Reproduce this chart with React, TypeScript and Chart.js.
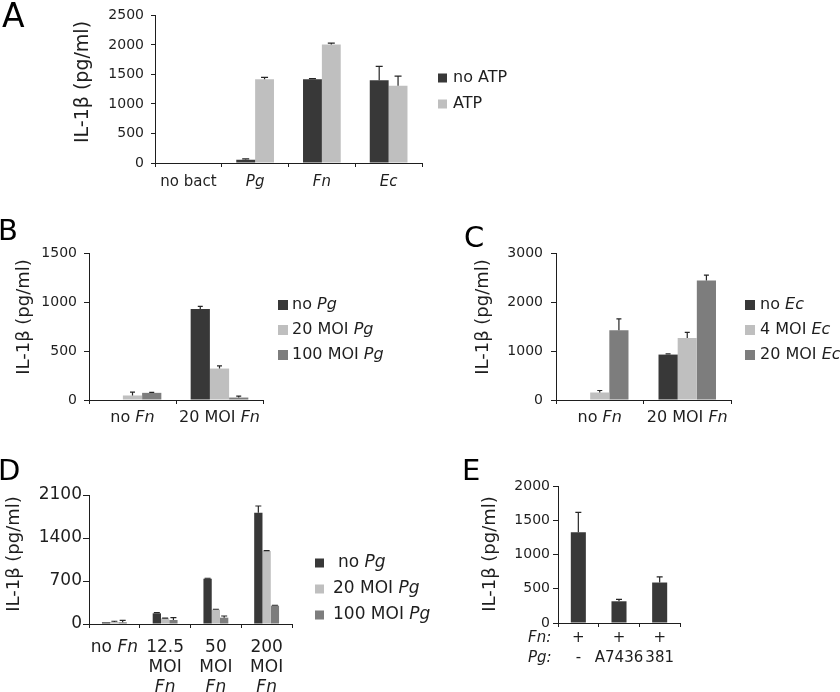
import React, { useEffect, useRef } from 'react';
import { Chart, registerables } from 'chart.js';

Chart.register(...registerables);

const FONT = "'DejaVu Sans', sans-serif";
const INK = '#1e1e1e';
const DARK = '#383838';
const LIGHT = '#bfbfbf';
const MID = '#7d7d7d';

// ---------- Panel A ----------
const A_CATEGORIES = ['no bact', '*Pg*', '*Fn*', '*Ec*'];
const A_SERIES = ['no ATP', 'ATP'];
const A_NO_ATP = [0, 55, 1418, 1402];
const A_NO_ATP_ERR = [0, 15, 12, 233];
const A_ATP = [0, 1418, 2005, 1309];
const A_ATP_ERR = [0, 32, 25, 163];
const A_TICKS = [0, 500, 1000, 1500, 2000, 2500];

// ---------- Panel B ----------
const B_CATEGORIES = ['no *Fn*', '20 MOI *Fn*'];
const B_SERIES = ['no *Pg*', '20 MOI *Pg*', '100 MOI *Pg*'];
const B_NO_PG = [0, 929];
const B_NO_PG_ERR = [0, 27];
const B_PG20 = [46, 321];
const B_PG20_ERR = [34, 27];
const B_PG100 = [73, 25];
const B_PG100_ERR = [5, 14];
const B_TICKS = [0, 500, 1000, 1500];

// ---------- Panel C ----------
const C_CATEGORIES = ['no *Fn*', '20 MOI *Fn*'];
const C_SERIES = ['no *Ec*', '4 MOI *Ec*', '20 MOI *Ec*'];
const C_NO_EC = [0, 927];
const C_NO_EC_ERR = [0, 14];
const C_EC4 = [153, 1267];
const C_EC4_ERR = [41, 114];
const C_EC20 = [1422, 2440];
const C_EC20_ERR = [232, 110];
const C_TICKS = [0, 1000, 2000, 3000];

// ---------- Panel D ----------
const D_CATEGORIES = [['no *Fn*'], ['12.5', 'MOI', '*Fn*'], ['50', 'MOI', '*Fn*'], ['200', 'MOI', '*Fn*']];
const D_SERIES = ['no *Pg*', '20 MOI *Pg*', '100 MOI *Pg*'];
const D_NO_PG = [28, 174, 737, 1812];
const D_NO_PG_ERR = [0, 11, 8, 109];
const D_PG20 = [33, 93, 233, 1188];
const D_PG20_ERR = [12, 3, 7, 7];
const D_PG100 = [28, 65, 103, 298];
const D_PG100_ERR = [32, 38, 27, 7];
const D_TICKS = [0, 700, 1400, 2100];

// ---------- Panel E ----------
const E_FN_ROW = ['+', '+', '+'];
const E_PG_ROW = ['-', 'A7436', '381'];
const E_ROW_HEADERS = ['*Fn:*', '*Pg:*'];
const E_VALUES = [1323, 317, 591];
const E_ERR = [292, 28, 82];
const E_TICKS = [0, 500, 1000, 1500, 2000];

const Y_TITLE = 'IL-1\u03b2 (pg/ml)';

function drawRich(ctx: CanvasRenderingContext2D, text: string, x: number, y: number, size: number, align: string, baseline: CanvasTextBaseline = 'alphabetic') {
  const segs = text.split('*').map((t, i) => ({ t, it: i % 2 === 1 })).filter(s => s.t.length > 0);
  const fontOf = (it: boolean) => `${it ? 'italic ' : ''}${size}px ${FONT}`;
  let w = 0;
  segs.forEach(s => { ctx.font = fontOf(s.it); w += ctx.measureText(s.t).width; });
  let cx = align === 'center' ? x - w / 2 : align === 'right' ? x - w : x;
  ctx.textAlign = 'left';
  ctx.textBaseline = baseline;
  segs.forEach(s => { ctx.font = fontOf(s.it); ctx.fillText(s.t, cx, y); cx += ctx.measureText(s.t).width; });
}

const errorBarsPlugin = {
  id: 'errorBars',
  afterDatasetsDraw(chart: any, _a: any, opts: any) {
    const ctx = chart.ctx;
    const ys = chart.scales.y;
    ctx.save();
    ctx.strokeStyle = '#262626';
    ctx.lineWidth = 1.2;
    chart.data.datasets.forEach((ds: any, di: number) => {
      const errs = ds.errors;
      if (!errs) return;
      const meta = chart.getDatasetMeta(di);
      meta.data.forEach((bar: any, i: number) => {
        const e = errs[i];
        if (!e) return;
        const v = ds.data[i];
        const y0 = ys.getPixelForValue(v);
        const y1 = ys.getPixelForValue(v + e);
        const cap = opts.cap || 6;
        ctx.beginPath();
        ctx.moveTo(bar.x, y0);
        ctx.lineTo(bar.x, y1);
        ctx.moveTo(bar.x - cap / 2, y1);
        ctx.lineTo(bar.x + cap / 2, y1);
        ctx.stroke();
      });
    });
    ctx.restore();
  },
};

const decoPlugin = {
  id: 'deco',
  afterDraw(chart: any, _a: any, o: any) {
    const ctx = chart.ctx;
    const xs = chart.scales.x;
    const area = chart.chartArea;
    ctx.save();
    ctx.fillStyle = INK;
    chart.data.labels.forEach((lab: any, i: number) => {
      const lines = Array.isArray(lab) ? lab : [lab];
      const x = xs.getPixelForValue(i);
      lines.forEach((ln: string, j: number) => drawRich(ctx, ln, x, area.bottom + o.xFirst + j * o.xLineH, o.xSize, 'center'));
    });
    (o.rowHeaders || []).forEach((h: string, j: number) =>
      drawRich(ctx, h, o.rowHeaderX, area.bottom + o.xFirst + j * o.xLineH, o.xSize, 'left'));
    ctx.save();
    ctx.translate(o.yTitleX, o.yTitleY);
    ctx.rotate(-Math.PI / 2);
    ctx.textAlign = 'center';
    ctx.textBaseline = 'middle';
    ctx.font = `${o.yTitleSize}px ${FONT}`;
    ctx.fillText(Y_TITLE, 0, 0);
    ctx.restore();
    if (o.legend) {
      const L = o.legend;
      chart.data.datasets.forEach((ds: any, i: number) => {
        const cy = L.y0 + i * L.gap;
        ctx.fillStyle = ds.backgroundColor;
        ctx.fillRect(L.boxX, cy - L.box / 2, L.box, L.box);
        ctx.fillStyle = INK;
        drawRich(ctx, ds.label, L.textX + (L.shift && L.shift[i] ? L.shift[i] : 0), cy, L.size, 'left', 'middle');
      });
    }
    ctx.fillStyle = '#000';
    ctx.font = `${o.letterSize}px ${FONT}`;
    ctx.textAlign = 'left';
    ctx.textBaseline = 'alphabetic';
    ctx.fillText(o.letter, o.letterX, o.letterY);
    ctx.restore();
  },
};

type PanelDef = {
  labels: any[];
  datasets: { label: string; data: number[]; errors: number[]; color: string }[];
  yTicks: number[];
  box: { left: number; top: number; right: number; bottom: number };
  catPct: number;
  tickSize: number;
  yTickPad: number;
  yTickLen: number;
  xTickLen: number;
  cap: number;
  deco: any;
};

function PanelChart({ def }: { def: PanelDef }) {
  const ref = useRef<HTMLCanvasElement>(null);
  useEffect(() => {
    if (!ref.current) return;
    const YW = 72;
    const XH = 10;
    const b = def.box;
    const chart = new Chart(ref.current, {
      type: 'bar',
      data: {
        labels: def.labels,
        datasets: def.datasets.map(d => ({
          label: d.label,
          data: d.data,
          errors: d.errors,
          backgroundColor: d.color,
          borderWidth: 0,
          barPercentage: 1,
          categoryPercentage: def.catPct,
        })) as any,
      },
      options: {
        animation: false,
        responsive: false,
        devicePixelRatio: 1,
        layout: { padding: { left: b.left - YW, top: b.top, right: 840 - b.right, bottom: 692 - b.bottom - XH } },
        plugins: {
          legend: { display: false },
          tooltip: { enabled: false },
          errorBars: { cap: def.cap },
          deco: def.deco,
        } as any,
        scales: {
          x: {
            type: 'category',
            offset: true,
            grid: { display: true, drawOnChartArea: false, drawTicks: true, tickLength: def.xTickLen, color: INK, offset: true, lineWidth: 1 },
            border: { display: true, color: INK, width: 1 },
            ticks: { display: false },
            afterFit: (s: any) => { s.height = XH; },
          },
          y: {
            min: def.yTicks[0],
            max: def.yTicks[def.yTicks.length - 1],
            grid: { display: true, drawOnChartArea: false, drawTicks: true, tickLength: def.yTickLen, color: INK, lineWidth: 1 },
            border: { display: true, color: INK, width: 1 },
            ticks: {
              font: { family: FONT, size: def.tickSize },
              color: INK,
              padding: def.yTickPad,
              callback: (v: any) => String(v),
            },
            afterBuildTicks: (s: any) => { s.ticks = def.yTicks.map(v => ({ value: v })); },
            afterFit: (s: any) => { s.width = YW; },
          },
        } as any,
      },
      plugins: [errorBarsPlugin, decoPlugin],
    });
    return () => chart.destroy();
  }, [def]);
  return <canvas ref={ref} width={840} height={692} style={{ position: 'absolute', left: 0, top: 0, width: 840, height: 692 }} />;
}

const PANELS: PanelDef[] = [
  {
    labels: A_CATEGORIES,
    datasets: [
      { label: A_SERIES[0], data: A_NO_ATP, errors: A_NO_ATP_ERR, color: DARK },
      { label: A_SERIES[1], data: A_ATP, errors: A_ATP_ERR, color: LIGHT },
    ],
    yTicks: A_TICKS,
    box: { left: 155, top: 10, right: 422, bottom: 163 },
    catPct: 0.565,
    tickSize: 14,
    yTickPad: 7,
    yTickLen: 4,
    xTickLen: 4,
    cap: 7,
    deco: {
      xFirst: 23, xLineH: 20, xSize: 15,
      yTitleX: 83, yTitleY: 82, yTitleSize: 19,
      legend: { boxX: 438, textX: 453, y0: 78, gap: 26, box: 9, size: 16 },
      letter: 'A', letterX: 2, letterY: 27, letterSize: 33,
    },
  },
  {
    labels: B_CATEGORIES,
    datasets: [
      { label: B_SERIES[0], data: B_NO_PG, errors: B_NO_PG_ERR, color: DARK },
      { label: B_SERIES[1], data: B_PG20, errors: B_PG20_ERR, color: LIGHT },
      { label: B_SERIES[2], data: B_PG100, errors: B_PG100_ERR, color: MID },
    ],
    yTicks: B_TICKS,
    box: { left: 89, top: 253, right: 263, bottom: 400 },
    catPct: 0.663,
    tickSize: 14,
    yTickPad: 7,
    yTickLen: 5,
    xTickLen: 4,
    cap: 5,
    deco: {
      xFirst: 22, xLineH: 20, xSize: 16,
      yTitleX: 24, yTitleY: 317, yTitleSize: 18,
      legend: { boxX: 278, textX: 292, y0: 305, gap: 25, box: 10, size: 16 },
      letter: 'B', letterX: -2, letterY: 240, letterSize: 29,
    },
  },
  {
    labels: C_CATEGORIES,
    datasets: [
      { label: C_SERIES[0], data: C_NO_EC, errors: C_NO_EC_ERR, color: DARK },
      { label: C_SERIES[1], data: C_EC4, errors: C_EC4_ERR, color: LIGHT },
      { label: C_SERIES[2], data: C_EC20, errors: C_EC20_ERR, color: MID },
    ],
    yTicks: C_TICKS,
    box: { left: 556, top: 253, right: 731, bottom: 400 },
    catPct: 0.657,
    tickSize: 14,
    yTickPad: 8,
    yTickLen: 5,
    xTickLen: 4,
    cap: 5,
    deco: {
      xFirst: 22, xLineH: 20, xSize: 16,
      yTitleX: 483, yTitleY: 317, yTitleSize: 18,
      legend: { boxX: 745, textX: 760, y0: 305, gap: 25, box: 10, size: 16 },
      letter: 'C', letterX: 464, letterY: 247, letterSize: 29,
    },
  },
  {
    labels: D_CATEGORIES,
    datasets: [
      { label: D_SERIES[0], data: D_NO_PG, errors: D_NO_PG_ERR, color: DARK },
      { label: D_SERIES[1], data: D_PG20, errors: D_PG20_ERR, color: LIGHT },
      { label: D_SERIES[2], data: D_PG100, errors: D_PG100_ERR, color: MID },
    ],
    yTicks: D_TICKS,
    box: { left: 89, top: 495, right: 292, bottom: 624 },
    catPct: 0.49,
    tickSize: 17,
    yTickPad: 1,
    yTickLen: 6,
    xTickLen: 4,
    cap: 6,
    deco: {
      xFirst: 28, xLineH: 20, xSize: 17,
      yTitleX: 14, yTitleY: 554, yTitleSize: 18,
      legend: { boxX: 315, textX: 333, y0: 563, gap: 26, box: 9, size: 17, shift: [5, 0, 0] },
      letter: 'D', letterX: -2, letterY: 480, letterSize: 29,
    },
  },
  {
    labels: E_FN_ROW.map((f, i) => [f, E_PG_ROW[i]]),
    datasets: [
      { label: 'IL-1\u03b2', data: E_VALUES, errors: E_ERR, color: DARK },
    ],
    yTicks: E_TICKS,
    box: { left: 558, top: 486, right: 680, bottom: 623 },
    catPct: 0.37,
    tickSize: 14,
    yTickPad: 3,
    yTickLen: 5,
    xTickLen: 4,
    cap: 6,
    deco: {
      xFirst: 19, xLineH: 20, xSize: 15,
      rowHeaders: E_ROW_HEADERS, rowHeaderX: 528,
      yTitleX: 490, yTitleY: 554, yTitleSize: 18,
      letter: 'E', letterX: 462, letterY: 480, letterSize: 29,
    },
  },
];

export default function App() {
  return (
    <div style={{ position: 'fixed', left: 0, top: 0, width: 840, height: 692, background: '#fff', overflow: 'hidden' }}>
      {PANELS.map((p, i) => <PanelChart key={i} def={p} />)}
    </div>
  );
}
